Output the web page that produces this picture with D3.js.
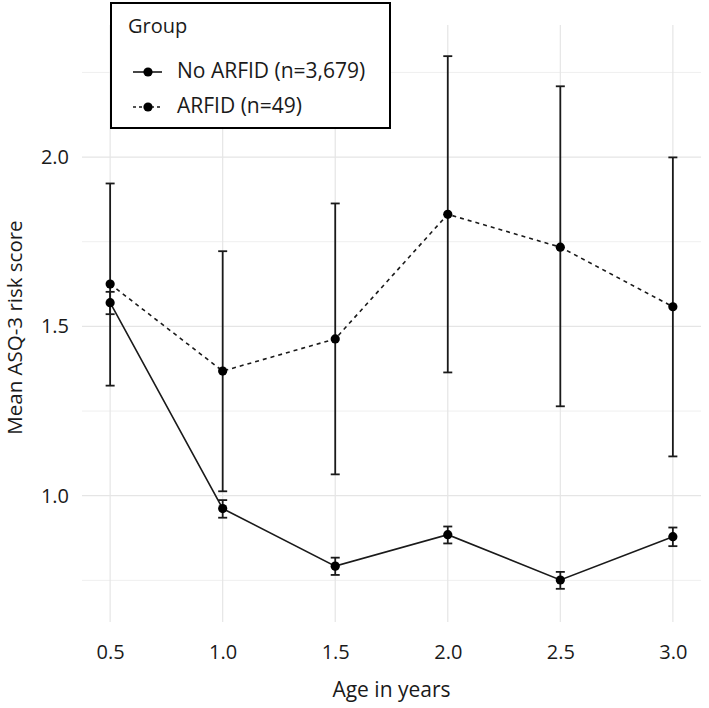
<!DOCTYPE html>
<html>
<head>
<meta charset="utf-8">
<script src="https://cdn.jsdelivr.net/npm/d3@7"></script>
<style>
  html, body { margin: 0; padding: 0; background: #fff; }
  svg { display: block; }
  text { font-family: "Open Sans", "Noto Sans", sans-serif; fill: #1a1a1a; }
</style>
</head>
<body>
<svg id="chart" width="709" height="708"></svg>
<script>
// ---- data ----
const ages = [0.5, 1.0, 1.5, 2.0, 2.5, 3.0];
const noArfidMean  = [1.570, 0.962, 0.792, 0.885, 0.751, 0.879];
const noArfidLower = [1.536, 0.935, 0.766, 0.859, 0.725, 0.851];
const noArfidUpper = [1.602, 0.987, 0.817, 0.909, 0.775, 0.906];
const arfidMean    = [1.625, 1.368, 1.463, 1.831, 1.734, 1.558];
const arfidLower   = [1.325, 1.013, 1.063, 1.364, 1.264, 1.116];
const arfidUpper   = [1.922, 1.722, 1.863, 2.298, 2.209, 1.999];
const xTicks = [0.5, 1.0, 1.5, 2.0, 2.5, 3.0];
const yTicks = [1.0, 1.5, 2.0];
const yMinor = [0.75, 1.25, 1.75, 2.25];
const groups = ["No ARFID (n=3,679)", "ARFID (n=49)"];

const series = [
  { name: groups[0], mean: noArfidMean, lo: noArfidLower, hi: noArfidUpper, dash: null },
  { name: groups[1], mean: arfidMean, lo: arfidLower, hi: arfidUpper, dash: "4,4" }
];

const svg = d3.select("#chart");
const panel = { left: 82, right: 701, top: 25, bottom: 622 };

const x = d3.scaleLinear().domain([0.375, 3.125]).range([panel.left, panel.right]);
const y = d3.scaleLinear().domain([0.627, 2.39]).range([panel.bottom, panel.top]);

// grid
const grid = svg.append("g");
grid.selectAll("line.ymin").data(yMinor).join("line")
  .attr("x1", panel.left).attr("x2", panel.right)
  .attr("y1", d => y(d)).attr("y2", d => y(d))
  .attr("stroke", "#efefef").attr("stroke-width", 1);
grid.selectAll("line.ymaj").data(yTicks).join("line")
  .attr("x1", panel.left).attr("x2", panel.right)
  .attr("y1", d => y(d)).attr("y2", d => y(d))
  .attr("stroke", "#e5e5e5").attr("stroke-width", 1.2);
grid.selectAll("line.xmaj").data(xTicks).join("line")
  .attr("y1", panel.top).attr("y2", panel.bottom)
  .attr("x1", d => x(d)).attr("x2", d => x(d))
  .attr("stroke", "#e5e5e5").attr("stroke-width", 1.2);

// axes (labels only)
const yAxis = d3.axisLeft(y).tickValues(yTicks).tickFormat(d3.format(".1f")).tickSize(0).tickPadding(13);
const yg = svg.append("g").attr("transform", `translate(${panel.left},0)`).call(yAxis);
yg.select(".domain").remove();
yg.selectAll("text").style("font-size", "20px").attr("fill", "#1a1a1a").attr("font-family", null);

const xAxis = d3.axisBottom(x).tickValues(xTicks).tickFormat(d3.format(".1f")).tickSize(0).tickPadding(23);
const xg = svg.append("g").attr("transform", `translate(0,${panel.bottom})`).call(xAxis);
xg.select(".domain").remove();
xg.selectAll("text").style("font-size", "20px").attr("fill", "#1a1a1a").attr("font-family", null);

// axis titles
svg.append("text").attr("x", (panel.left + panel.right) / 2).attr("y", 697)
  .attr("text-anchor", "middle").style("font-size", "21px").text("Age in years");
svg.append("text").attr("transform", `translate(22,${(panel.top + panel.bottom) / 2 + 4}) rotate(-90)`)
  .attr("text-anchor", "middle").style("font-size", "20.5px").text("Mean ASQ-3 risk score");

// lines
const line = d3.line().x((d, i) => x(ages[i])).y(d => y(d));
const marks = svg.append("g");
series.forEach(s => {
  marks.append("path").datum(s.mean).attr("d", line)
    .attr("fill", "none").attr("stroke", "#1a1a1a").attr("stroke-width", 1.6)
    .attr("stroke-dasharray", s.dash);
});
// error bars
const capW = 4.5;
series.forEach(s => {
  const g = marks.append("g").attr("stroke", "#1a1a1a").attr("stroke-width", 1.8).attr("fill", "none");
  ages.forEach((a, i) => {
    g.append("line").attr("x1", x(a)).attr("x2", x(a)).attr("y1", y(s.lo[i])).attr("y2", y(s.hi[i]));
    g.append("line").attr("x1", x(a) - capW).attr("x2", x(a) + capW).attr("y1", y(s.lo[i])).attr("y2", y(s.lo[i]));
    g.append("line").attr("x1", x(a) - capW).attr("x2", x(a) + capW).attr("y1", y(s.hi[i])).attr("y2", y(s.hi[i]));
  });
});
// points
series.forEach(s => {
  marks.append("g").selectAll("circle").data(s.mean).join("circle")
    .attr("cx", (d, i) => x(ages[i])).attr("cy", d => y(d)).attr("r", 4.6).attr("fill", "#000");
});

// legend
const lg = svg.append("g");
lg.append("rect").attr("x", 111).attr("y", 3).attr("width", 279).attr("height", 125)
  .attr("fill", "#fff").attr("stroke", "#000").attr("stroke-width", 2);
lg.append("text").attr("x", 128).attr("y", 33).style("font-size", "20px").text("Group");
series.forEach((s, i) => {
  const cy = 72 + i * 35;
  lg.append("line").attr("x1", 133).attr("x2", 162).attr("y1", cy).attr("y2", cy)
    .attr("stroke", "#1a1a1a").attr("stroke-width", 1.6).attr("stroke-dasharray", s.dash ? "3,3" : null);
  lg.append("circle").attr("cx", 148).attr("cy", cy).attr("r", 4.6).attr("fill", "#000");
  lg.append("text").attr("x", 177).attr("y", cy + 5.5).style("font-size", "21px").text(s.name);
});
</script>
</body>
</html>
